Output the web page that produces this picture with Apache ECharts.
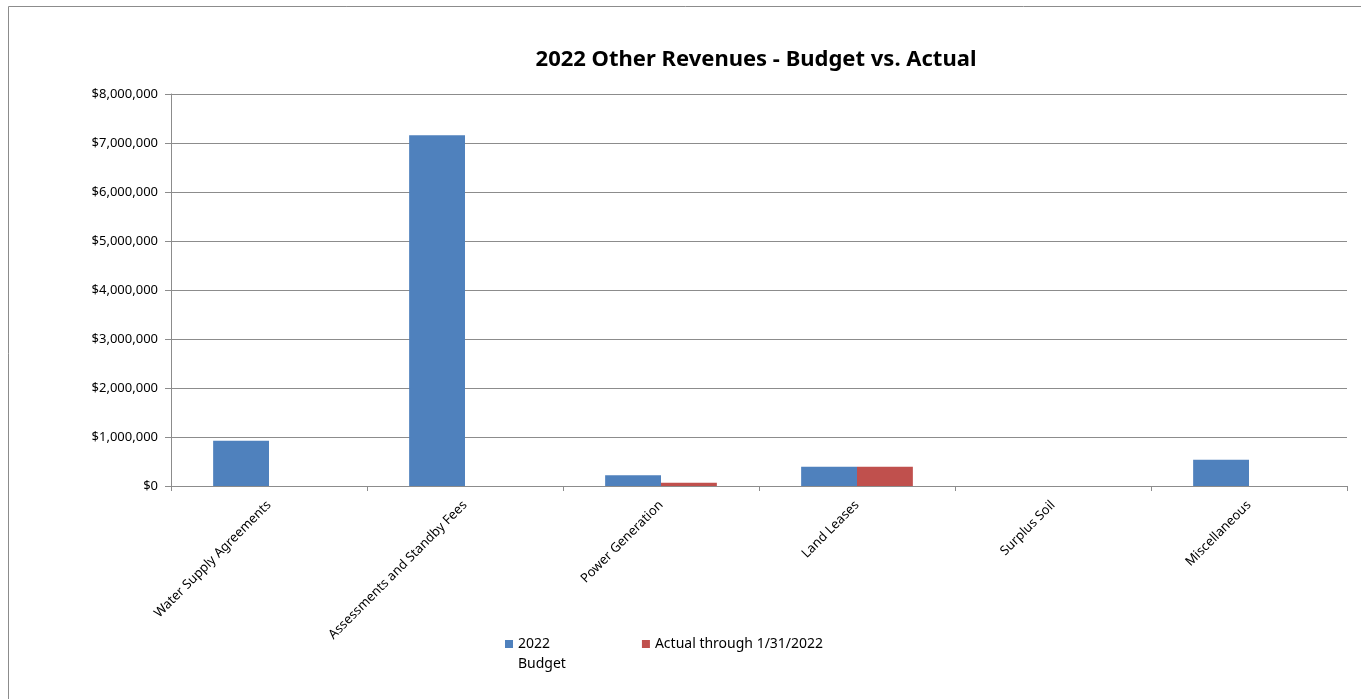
<!DOCTYPE html>
<html>
<head>
<meta charset="utf-8">
<script src="https://cdn.jsdelivr.net/npm/echarts@6/dist/echarts.min.js"></script>
<style>
html,body{margin:0;padding:0;background:#fff;}
#chart{width:1361px;height:699px;}
</style>
</head>
<body>
<div id="chart"></div>
<script>
const categories = ["Water Supply Agreements", "Assessments and Standby Fees", "Power Generation", "Land Leases", "Surplus Soil", "Miscellaneous"];
const budget2022 = [925000, 7160000, 218000, 395000, 0, 537000];
const actualThrough = [0, 0, 66000, 395000, 0, 0];
const seriesNames = ["2022 Budget", "Actual through 1/31/2022"];
const yTicks = { min: 0, max: 8000000, interval: 1000000 };

const FONT = '"Noto Sans", "Open Sans", sans-serif';
const chart = echarts.init(document.getElementById('chart'), null, { renderer: 'canvas' });
chart.setOption({
  backgroundColor: '#ffffff',
  animation: false,
  title: {
    text: '2022 Other Revenues - Budget vs. Actual',
    left: 751, top: 44, textAlign: 'center',
    textStyle: { fontFamily: FONT, fontSize: 22, fontWeight: 'bold', color: '#000' }
  },
  graphic: [{
    type: 'rect', left: 6, top: 4, z: -1,
    shape: { width: 1500, height: 800 },
    style: { fill: 'none', stroke: '#8c8c8c', lineWidth: 1 }
  }],
  legend: {
    left: 500, top: 609,
    itemWidth: 8, itemHeight: 8, itemGap: 76,
    icon: 'rect',
    data: seriesNames,
    formatter: function (n) { return n === seriesNames[0] ? ' \n2022\nBudget' : n; },
    textStyle: { fontFamily: FONT, fontSize: 14, color: '#000', lineHeight: 20 }
  },
  grid: { left: 171, right: 14, top: 94, bottom: 213, containLabel: false },
  xAxis: {
    type: 'category', data: categories,
    axisLine: { lineStyle: { color: '#8c8c8c', width: 1 } },
    axisTick: { show: true, length: 5, alignWithLabel: false, lineStyle: { color: '#8c8c8c' } },
    axisLabel: { rotate: 45, interval: 0, margin: 17, fontFamily: FONT, fontSize: 13, color: '#000' }
  },
  yAxis: {
    type: 'value', min: yTicks.min, max: yTicks.max, interval: yTicks.interval,
    axisLine: { show: true, lineStyle: { color: '#8c8c8c', width: 1 } },
    axisTick: { show: true, length: 6, lineStyle: { color: '#8c8c8c' } },
    splitLine: { show: true, lineStyle: { color: '#8c8c8c', width: 1 } },
    axisLabel: {
      margin: 13, fontFamily: FONT, fontSize: 13, color: '#000',
      formatter: function (v) { return '$' + v.toLocaleString('en-US'); }
    }
  },
  series: [
    { name: seriesNames[0], type: 'bar', data: budget2022, barGap: '0%', barCategoryGap: '43%',
      itemStyle: { color: '#4F81BD' } },
    { name: seriesNames[1], type: 'bar', data: actualThrough, barGap: '0%', barCategoryGap: '43%',
      itemStyle: { color: '#C0504D' } }
  ]
});
</script>
</body>
</html>
